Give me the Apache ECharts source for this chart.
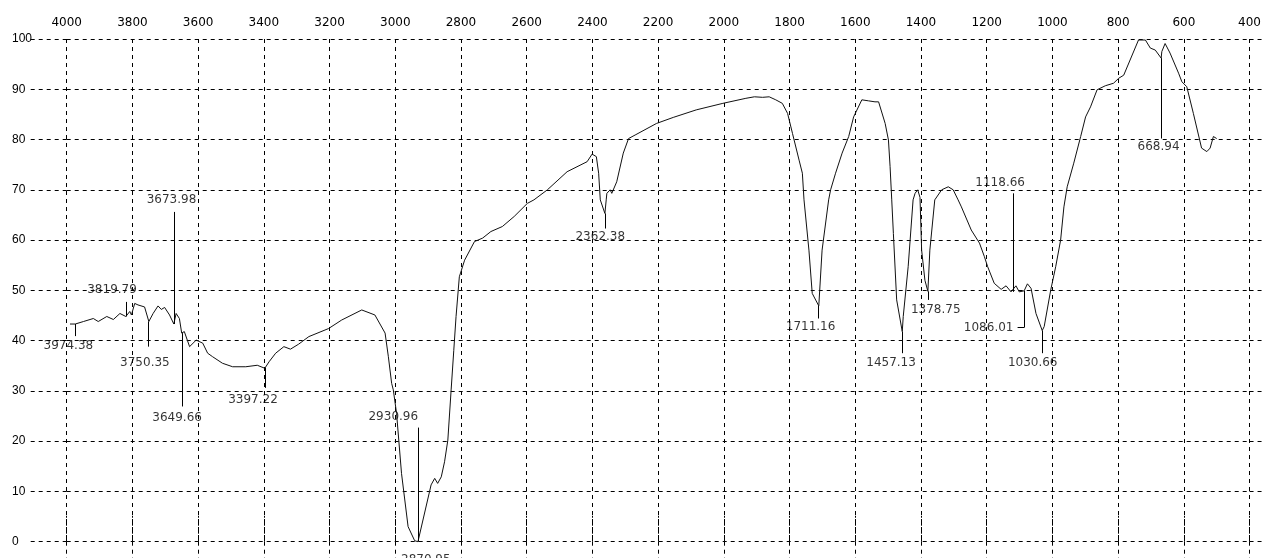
<!DOCTYPE html>
<html>
<head>
<meta charset="utf-8">
<title>IR spectrum</title>
<script src="https://cdn.jsdelivr.net/npm/echarts@6/dist/echarts.min.js"></script>
<style>
  html, body { margin: 0; padding: 0; background: #fff; }
  #main { width: 1264px; height: 558px; }
</style>
</head>
<body>
<div id="main"></div>
<script>
// spectrum: [wavenumber cm-1, transmittance %]
var spectrum = [
  [3990, 43.3], [3974, 43.3], [3949, 43.8], [3919, 44.4], [3904, 43.8], [3878, 44.8],
  [3858, 44.2], [3838, 45.4], [3820, 44.8], [3808, 45.8], [3803, 45.1], [3793, 47.4],
  [3783, 47.1], [3763, 46.7], [3750, 43.8], [3737, 45.4], [3722, 46.9], [3712, 46.2],
  [3702, 46.6], [3687, 45.1], [3674, 43.3], [3667, 45.4], [3657, 44.4], [3650, 41.5],
  [3642, 41.8], [3626, 38.8], [3606, 40.1], [3586, 39.5], [3571, 37.5], [3556, 36.8],
  [3526, 35.5], [3495, 34.8], [3455, 34.8], [3420, 35.1], [3397, 34.5], [3384, 35.8],
  [3364, 37.5], [3339, 38.8], [3319, 38.3], [3294, 39.3], [3263, 40.8], [3203, 42.4],
  [3163, 44.1], [3102, 46.1], [3062, 45.1], [3031, 41.5], [3021, 36.8], [3011, 31.5],
  [3006, 30.2], [2996, 25.5], [2981, 13.6], [2961, 3.0], [2941, 0.2], [2931, 0],
  [2926, 0.2], [2891, 11.3], [2880, 12.6], [2871, 11.6], [2860, 12.9], [2850, 15.9],
  [2840, 20.2], [2830, 30.2], [2822, 38.0], [2815, 44.8], [2805, 52.7], [2789, 56.0],
  [2759, 59.7], [2734, 60.4], [2709, 61.7], [2674, 62.7], [2638, 64.7], [2598, 67.3],
  [2578, 68.0], [2537, 70.0], [2477, 73.6], [2416, 75.6], [2401, 77.1], [2388, 76.6],
  [2381, 73.3], [2376, 68.0], [2362, 65.3], [2358, 68.0], [2356, 69.3], [2346, 70.0],
  [2341, 69.3], [2326, 71.6], [2306, 77.3], [2290, 80.2], [2270, 80.9], [2205, 83.2],
  [2154, 84.4], [2084, 85.9], [2003, 87.2], [1933, 88.2], [1907, 88.5], [1882, 88.4],
  [1862, 88.5], [1842, 87.9], [1822, 87.2], [1806, 85.2], [1791, 81.2], [1771, 75.9],
  [1761, 73.3], [1756, 68.0], [1741, 58.0], [1731, 49.4], [1711, 46.9], [1701, 58.0],
  [1681, 68.0], [1675, 70.0], [1660, 73.3], [1640, 77.3], [1620, 80.6], [1605, 84.5],
  [1580, 87.9], [1560, 87.7], [1540, 87.5], [1529, 87.5], [1509, 83.2], [1499, 79.9],
  [1494, 74.6], [1489, 68.0], [1484, 61.3], [1474, 48.1], [1457, 41.8], [1454, 44.8],
  [1439, 54.7], [1424, 68.0], [1418, 69.3], [1410, 70.0], [1403, 68.5], [1398, 58.0],
  [1388, 52.0], [1379, 49.8], [1373, 58.0], [1358, 68.0], [1337, 70.0], [1317, 70.6],
  [1302, 70.0], [1287, 68.0], [1277, 66.6], [1247, 62.0], [1222, 59.4], [1207, 56.7],
  [1197, 54.7], [1177, 51.4], [1156, 50.2], [1141, 50.9], [1126, 49.7], [1111, 50.9],
  [1101, 49.7], [1086, 49.9], [1076, 51.3], [1065, 50.4], [1050, 45.4], [1031, 42.0],
  [1025, 42.8], [1005, 50.1], [990, 54.7], [975, 60.0], [965, 66.6], [955, 70.6],
  [935, 75.3], [914, 80.6], [899, 84.5], [884, 86.5], [864, 89.9], [839, 90.7],
  [814, 91.2], [798, 92.2], [783, 92.8], [738, 99.8], [717, 99.8], [702, 98.2],
  [687, 97.8], [669, 96.2], [667, 97.5], [657, 99.1], [642, 97.2], [616, 93.2],
  [606, 91.5], [591, 90.5], [571, 85.2], [546, 78.3], [530, 77.6], [520, 78.3],
  [510, 80.6], [505, 80.9], [500, 80.2]
];

// peak annotations
var peakNames = [
  '3974.38', '3819.79', '3750.35', '3673.98', '3649.66', '3397.22', '2930.96', '2870.95',
  '2362.38', '1711.16', '1457.13', '1378.75', '1118.66', '1086.01', '1030.66', '668.94'
];
// where each label text sits (wavenumber, %T)
var peakLabelAt = [
  [3995, 38.9], [3862, 50.1], [3762, 35.5], [3681, 67.9], [3664, 24.7], [3433, 28.2],
  [3006, 24.9], [2907, -3.6], [2376, 60.7], [1736, 42.7], [1491, 35.5], [1355, 46.2],
  [1159, 71.3], [1194, 42.6], [1060, 35.5], [677, 78.6]
];
// leader line from the curve to the label
var peakLeaders = [
  [[3974.38, 43.3], [3974.38, 40.9]],
  [[3819.79, 44.8], [3819.79, 47.7]],
  [[3750.35, 43.8], [3750.35, 38.8]],
  [[3673.98, 43.3], [3673.98, 65.6]],
  [[3649.66, 41.5], [3649.66, 26.9]],
  [[3397.22, 34.6], [3397.22, 30.6]],
  [[2930.96, 0], [2930.96, 22.7]],
  [[2870.95, 11.6], [2870.95, -1.3]],
  [[2362.38, 65.3], [2362.38, 62.3]],
  [[1711.16, 46.9], [1711.16, 44.4]],
  [[1457.13, 41.8], [1457.13, 37.5]],
  [[1378.75, 49.8], [1378.75, 48.1]],
  [[1118.66, 49.7], [1118.66, 69.3]],
  [[1086.01, 49.9], [1086.01, 42.6], [1106, 42.6]],
  [[1030.66, 42.0], [1030.66, 37.5]],
  [[668.94, 96.2], [668.94, 80.2]]
];

var xTickMin = 400, xTickMax = 4000, xStep = 200;
var yTickMin = 0, yTickMax = 100, yStep = 10;

var ink = '#000';
var dash = [4, 4];

// polylines -> two-point segments for markLine
var leaderSegments = [];
peakLeaders.forEach(function (pts) {
  for (var i = 0; i < pts.length - 1; i++) {
    leaderSegments.push([{ coord: pts[i] }, { coord: pts[i + 1] }]);
  }
});

var chart = echarts.init(document.getElementById('main'));

var option = {
  animation: false,
  backgroundColor: '#fff',
  grid: { left: 66.7, right: 9.5, top: 39, bottom: 16.3 },
  xAxis: [
    {
      type: 'value', position: 'top', inverse: true,
      min: xTickMin, max: xTickMax, interval: xStep,
      axisLine: { show: false },
      axisTick: { show: true, length: 26, lineStyle: { color: ink, type: dash } },
      axisLabel: {
        margin: 10, color: ink, fontFamily: 'DejaVu Sans', fontSize: 12,
        formatter: function (v) { return String(v); }
      },
      splitLine: { show: true, lineStyle: { color: ink, type: dash } }
    },
    {
      type: 'value', position: 'bottom', inverse: true,
      min: xTickMin, max: xTickMax, interval: xStep,
      axisLine: { show: false },
      axisTick: { show: true, length: 20, lineStyle: { color: ink, type: dash } },
      axisLabel: { show: false },
      splitLine: { show: false }
    }
  ],
  yAxis: [
    {
      type: 'value', position: 'left',
      min: yTickMin, max: yTickMax, interval: yStep,
      axisLine: { show: false },
      axisTick: { show: true, length: 38, lineStyle: { color: ink, type: dash } },
      axisLabel: { margin: 54.7, align: 'left', color: ink, fontFamily: 'Liberation Sans', fontSize: 12 },
      splitLine: { show: true, lineStyle: { color: ink, type: dash } }
    },
    {
      type: 'value', position: 'right',
      min: yTickMin, max: yTickMax, interval: yStep,
      axisLine: { show: false },
      axisTick: { show: true, length: 12, lineStyle: { color: ink, type: dash } },
      axisLabel: { show: false },
      splitLine: { show: false }
    }
  ],
  series: [
    {
      name: 'spectrum',
      type: 'line',
      xAxisIndex: 0, yAxisIndex: 0,
      data: spectrum,
      showSymbol: false,
      clip: false,
      silent: true,
      lineStyle: { color: '#111', width: 1 },
      markLine: {
        silent: true,
        symbol: ['none', 'none'],
        label: { show: false },
        lineStyle: { color: ink, type: 'solid', width: 1 },
        data: leaderSegments
      }
    },
    {
      name: 'peaks',
      type: 'scatter',
      xAxisIndex: 0, yAxisIndex: 0,
      clip: false,
      silent: true,
      symbolSize: 1,
      itemStyle: { color: 'rgba(0,0,0,0)' },
      data: peakNames.map(function (n, i) { return { name: n, value: peakLabelAt[i] }; }),
      label: {
        show: true, position: 'inside', formatter: '{b}',
        color: ink, fontFamily: 'DejaVu Sans', fontSize: 12
      }
    }
  ]
};

chart.setOption(option);
</script>
</body>
</html>
